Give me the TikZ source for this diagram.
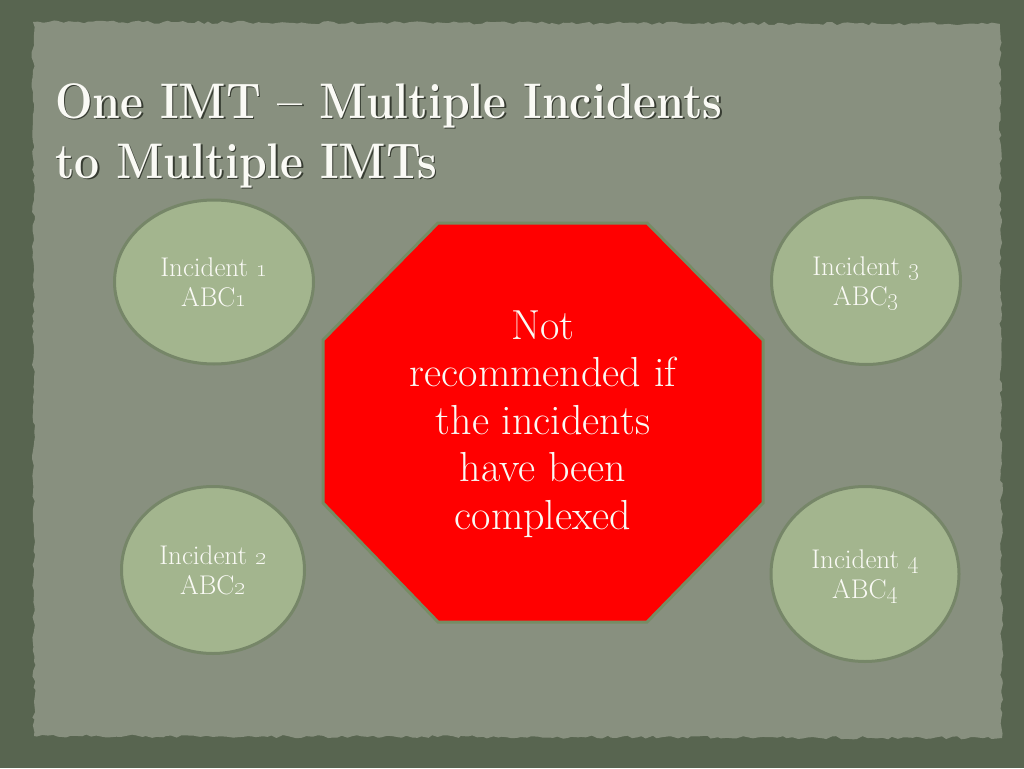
\documentclass[tikz,border=0pt]{standalone}
\usetikzlibrary{shapes.geometric,decorations.pathmorphing}
\definecolor{outerbg}{RGB}{88,101,80}
\definecolor{paper}{RGB}{136,144,127}
\definecolor{ellfill}{RGB}{163,181,142}
\definecolor{ellborder}{RGB}{118,134,104}
\definecolor{octborder}{RGB}{118,140,100}
\definecolor{octred}{RGB}{255,0,0}
\definecolor{txtwhite}{RGB}{250,250,245}
\definecolor{shadowc}{RGB}{55,60,50}
\newcommand{\ttlbox}[1]{\scalebox{0.89}[1]{#1}}
\newcommand{\osn}[1]{\smash{\oldstylenums{#1}}}
\begin{document}
\begin{tikzpicture}[x=1pt,y=-1pt,
  incident/.style={ellipse, draw=ellborder, line width=3pt, fill=ellfill, text=txtwhite,
    font=\fontsize{27}{30}\selectfont, align=center, inner sep=0pt},
  titletext/.style={anchor=base west, inner sep=0pt, font=\fontsize{50}{56}\selectfont\bfseries},
  octtxt/.style={text=txtwhite, align=center, inner sep=0pt, font=\fontsize{42}{47.5}\selectfont}
  ]
\useasboundingbox (0,0) rectangle (1024,768);
\fill[outerbg] (0,0) rectangle (1024,768);
\pgfmathsetseed{7}
\fill[paper, decorate, decoration={random steps, segment length=5pt, amplitude=1.6pt}]
  (33,22) -- (1000,24) -- (1002,738) -- (34,736) -- cycle;
% title
\node[titletext, text=shadowc] (t1s) at (56.5,119.5) {\ttlbox{One IMT -- Multiple Incidents}};
\node[titletext, text=shadowc] (t2s) at (56.5,179.5) {\ttlbox{to Multiple IMTs}};
\node[titletext, text=txtwhite] (t1) at (55,118) {\ttlbox{One IMT -- Multiple Incidents}};
\node[titletext, text=txtwhite] (t2) at (55,178) {\ttlbox{to Multiple IMTs}};
% incidents
\node[incident, minimum width=199pt, minimum height=164pt] (i1) at (214,282) {Incident \osn{1}\\ABC\osn{1}};
\node[incident, minimum width=183pt, minimum height=167pt] (i2) at (213,570) {Incident \osn{2}\\ABC\osn{2}};
\node[incident, minimum width=189pt, minimum height=167pt] (i3) at (866,281) {Incident \osn{3}\\ABC\osn{3}};
\node[incident, minimum width=188pt, minimum height=175pt] (i4) at (865,574) {Incident \osn{4}\\ABC\osn{4}};
% octagon
\draw[draw=octborder, fill=octred, line width=3pt]
  (438,223) -- (647,223) -- (763,340) -- (763,503) -- (647,622) -- (438,622) -- (323,503) -- (323,340) -- cycle;
\node[octtxt] (oct) at (543,424) {Not\\recommended if\\the incidents\\have been\\complexed};
\end{tikzpicture}
\end{document}
